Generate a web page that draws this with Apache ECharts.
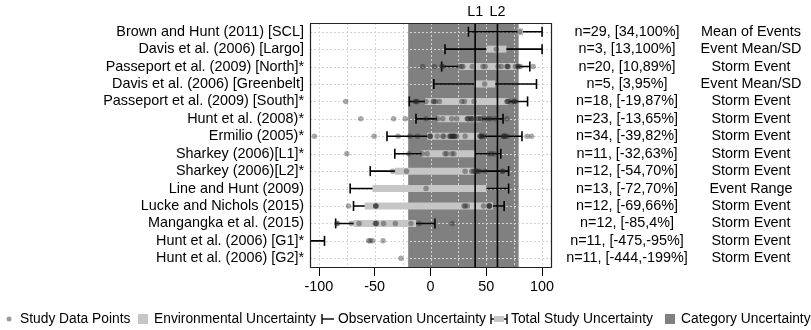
<!DOCTYPE html>
<html>
<head>
<meta charset="utf-8">
<script src="https://cdn.jsdelivr.net/npm/echarts@6/dist/echarts.min.js"></script>
<style>
  html, body { margin: 0; padding: 0; background: #fff; }
  #chart { width: 811px; height: 330px; }
</style>
</head>
<body>
<div id="chart"></div>
<script>
// Studies, top to bottom
const studies = [
  'Brown and Hunt (2011) [SCL]',
  'Davis et al. (2006) [Largo]',
  'Passeport et al. (2009) [North]*',
  'Davis et al. (2006) [Greenbelt]',
  'Passeport et al. (2009) [South]*',
  'Hunt et al. (2008)*',
  'Ermilio (2005)*',
  'Sharkey (2006)[L1]*',
  'Sharkey (2006)[L2]*',
  'Line and Hunt (2009)',
  'Lucke and Nichols (2015)',
  'Mangangka et al. (2015)',
  'Hunt et al. (2006) [G1]*',
  'Hunt et al. (2006) [G2]*'
];
const sampleCounts = [29, 3, 20, 5, 18, 23, 34, 11, 12, 13, 12, 12, 11, 11];
const dataTypes = [
  'Mean of Events', 'Event Mean/SD', 'Storm Event', 'Event Mean/SD',
  'Storm Event', 'Storm Event', 'Storm Event', 'Storm Event',
  'Storm Event', 'Event Range', 'Storm Event', 'Storm Event',
  'Storm Event', 'Storm Event'
];

// Total study uncertainty (observation whiskers), % removal
const totalLow  = [34, 13, 10, 3, -19, -13, -39, -32, -54, -72, -69, -85, -475, -444];
const totalHigh = [100, 100, 89, 95, 87, 65, 82, 63, 70, 70, 66, 4, -95, -199];

// Environmental uncertainty band, % removal
const envLow  = [78, 50, 25, 39, -5, 6, -3, -8, -32, -52, -59, -69, null, null];
const envHigh = [83, 68, 77, 58, 70, 46, 44, 40, 40, 50, 56, -13, null, null];

// Individual study data points, % removal
const studyPoints = [
  [80],
  [59],
  [-7, 3.5, 10, 11, 26, 28, 29, 37.5, 47, 49, 60.5, 63.5, 68.5, 69, 69.5, 76, 78, 79, 80.5, 92],
  [48.5],
  [-76, -13.5, -13, -12, -4, 2.5, 3, 4.5, 8, 28, 30.5, 39, 68.5, 69, 70, 74.5, 75, 76],
  [-62.5, -33, -22.5, -4, 6.5, 11, 19, 23.5, 33, 33.2, 34.5, 36.5, 37, 37.2, 41.5, 43, 45, 45.2, 49.5, 52, 54, 58, 68.5],
  [-104, -50.5, -29, -18.5, -11.5, -0.5, -0.3, -0.2, 6, 11, 12, 17, 18, 18.2, 19, 20, 20.2, 21, 21.2, 22, 23.5, 31, 44, 45, 45.2, 46.5, 48, 65, 66, 66.2, 67, 68.7, 86.5, 90.5],
  [-75, -19.5, -7.5, -3, 13, 14.5, 19, 21, 52, 54.5, 57],
  [-34, -21.5, 31, 37, 38.5, 40, 41, 42, 44, 49, 64.5, 64.8],
  [-4],
  [-73.5, -49.2, -49, -48.8, 30, 31, 33, 47.5, 52.5, 52.7, 52.8, 53],
  [-84, -83.5, -71, -64, -49.5, -48.8, -48.5, -42, -31.5, -17.5, -10, 19.5],
  [-55.5, -54, -52, -42.5],
  [-26.5]
];

// Category uncertainty range and reference limits
const categoryRange = [-20, 79];
const limitValues = [40, 60];
const limitNames = ['L1', 'L2'];

// Axis ticks and grid
const xTicks = [-100, -50, 0, 50, 100];
const xGridLines = [-100, -75, -50, -25, 0, 25, 50, 75, 100];
const xLimits = [-108, 108];

const FONT = "'Liberation Sans', Arial, sans-serif";
const FS = 14.4;
const LEG = 13.8;
const rowLabels = sampleCounts.map((n, i) => `n=${n}, [${totalLow[i]},${totalHigh[i]}%]`);

const chart = echarts.init(document.getElementById('chart'), null, { renderer: 'canvas' });

const obsData = studies.map((_, i) => [totalLow[i], totalHigh[i], i]);
const envData = [];
studies.forEach((_, i) => { if (envLow[i] != null) envData.push([envLow[i], envHigh[i], i]); });
const pointData = [];
studyPoints.forEach((pts, i) => pts.forEach(v => pointData.push([v, i])));

const legendText = (x, text) => ({
  type: 'text', x: x, y: 319,
  style: { text: text, fontSize: LEG, fontFamily: FONT, fill: '#000', verticalAlign: 'middle' }
});
const legendLine = (x1, y1, x2, y2) => ({
  type: 'line', shape: { x1, y1, x2, y2 }, style: { stroke: '#000', lineWidth: 1.4 }
});

const option = {
  animation: false,
  backgroundColor: '#fff',
  textStyle: { fontFamily: FONT },
  grid: { left: 310, right: 260, top: 23, bottom: 63, containLabel: false },
  xAxis: {
    type: 'value', min: xLimits[0], max: xLimits[1],
    axisLine: { show: false },
    axisTick: { show: true, customValues: xTicks, length: 9, lineStyle: { color: '#000', width: 1 } },
    axisLabel: { customValues: xTicks, fontSize: FS, color: '#000', margin: 13, fontFamily: FONT },
    splitLine: { show: false }
  },
  yAxis: [
    {
      type: 'category', data: studies, inverse: true,
      axisLine: { show: false }, axisTick: { show: false }, splitLine: { show: false },
      axisLabel: { interval: 0, fontSize: FS, color: '#000', margin: 6, fontFamily: FONT }
    },
    {
      type: 'category', data: studies, inverse: true, position: 'right',
      axisLine: { show: false }, axisTick: { show: false }, splitLine: { show: false },
      axisLabel: {
        interval: 0, margin: 11, fontFamily: FONT,
        formatter: (v, i) => `{a|${rowLabels[i]}}{b|${dataTypes[i]}}`,
        rich: {
          a: { width: 130, align: 'center', fontSize: FS, color: '#000', fontFamily: FONT },
          b: { width: 118, align: 'center', fontSize: FS, color: '#000', fontFamily: FONT }
        }
      }
    }
  ],
  series: [
    { // category uncertainty band
      type: 'custom', z: 1, data: [categoryRange],
      renderItem: (params, api) => {
        const cs = params.coordSys;
        const x0 = api.coord([api.value(0), 0])[0];
        const x1 = api.coord([api.value(1), 0])[0];
        return { type: 'rect', shape: { x: x0, y: cs.y, width: x1 - x0, height: cs.height },
                 style: { fill: '#808080' } };
      }
    },
    { // vertical dotted grid
      type: 'custom', z: 2, data: xGridLines.map(v => [v]),
      renderItem: (params, api) => {
        const cs = params.coordSys;
        const x = Math.round(api.coord([api.value(0), 0])[0]) + 0.5;
        return { type: 'line', shape: { x1: x, y1: cs.y, x2: x, y2: cs.y + cs.height },
                 style: { stroke: '#d3d3d3', lineWidth: 1, lineDash: [2, 2] } };
      }
    },
    { // horizontal dotted grid
      type: 'custom', z: 2, data: studies.map((_, i) => [i]),
      renderItem: (params, api) => {
        const cs = params.coordSys;
        const y = Math.round(api.coord([0, api.value(0)])[1]) + 0.5;
        return { type: 'line', shape: { x1: cs.x, y1: y, x2: cs.x + cs.width, y2: y },
                 style: { stroke: '#d3d3d3', lineWidth: 1, lineDash: [2, 2] } };
      }
    },
    { // observation / total study uncertainty whiskers
      type: 'custom', z: 3, clip: true, data: obsData,
      renderItem: (params, api) => {
        const p0 = api.coord([api.value(0), api.value(2)]);
        const p1 = api.coord([api.value(1), api.value(2)]);
        const h = 5;
        const st = { stroke: '#000', lineWidth: 1.6 };
        return { type: 'group', children: [
          { type: 'line', shape: { x1: p0[0], y1: p0[1], x2: p1[0], y2: p1[1] }, style: st },
          { type: 'line', shape: { x1: p0[0], y1: p0[1] - h, x2: p0[0], y2: p0[1] + h }, style: st },
          { type: 'line', shape: { x1: p1[0], y1: p1[1] - h, x2: p1[0], y2: p1[1] + h }, style: st }
        ] };
      }
    },
    { // environmental uncertainty band
      type: 'custom', z: 4, clip: true, data: envData,
      renderItem: (params, api) => {
        const p0 = api.coord([api.value(0), api.value(2)]);
        const p1 = api.coord([api.value(1), api.value(2)]);
        return { type: 'rect', shape: { x: p0[0], y: p0[1] - 3.5, width: p1[0] - p0[0], height: 7 },
                 style: { fill: '#c6c6c6' } };
      }
    },
    { // reference limits L1 / L2
      type: 'custom', z: 5, clip: false, data: limitValues.map((v, i) => [v, limitNames[i]]),
      renderItem: (params, api) => {
        const cs = params.coordSys;
        const x = api.coord([api.value(0), 0])[0];
        return { type: 'group', children: [
          { type: 'line', shape: { x1: x, y1: cs.y, x2: x, y2: cs.y + cs.height },
            style: { stroke: '#000', lineWidth: 1.6 } },
          { type: 'text', x: x, y: cs.y - 11,
            style: { text: limitNames[params.dataIndex], fontSize: FS, fontFamily: FONT, fill: '#000',
                     align: 'center', verticalAlign: 'middle' } }
        ] };
      }
    },
    { // study data points
      type: 'scatter', z: 6, data: pointData, symbol: 'circle', symbolSize: 5.5,
      itemStyle: { color: 'rgba(40,40,40,0.5)' }, clip: true
    },
    { // plot frame
      type: 'custom', z: 7, data: [[0]],
      renderItem: (params) => {
        const cs = params.coordSys;
        return { type: 'rect', shape: { x: cs.x + 0.5, y: cs.y + 0.5, width: cs.width, height: cs.height },
                 style: { fill: 'none', stroke: '#222', lineWidth: 1.2 } };
      }
    }
  ],
  graphic: [
    { type: 'circle', shape: { cx: 9, cy: 319, r: 2.5 }, style: { fill: '#9a9a9a' } },
    legendText(20, 'Study Data Points'),
    { type: 'rect', shape: { x: 138, y: 314, width: 10, height: 10 }, style: { fill: '#c6c6c6' } },
    legendText(154, 'Environmental Uncertainty'),
    legendLine(322, 319, 334, 319),
    legendLine(322, 314, 322, 324),
    legendText(338, 'Observation Uncertainty'),
    legendLine(491, 319, 507, 319),
    legendLine(491, 314, 491, 324),
    legendLine(507, 314, 507, 324),
    { type: 'rect', shape: { x: 494, y: 316, width: 10, height: 6 }, style: { fill: '#c6c6c6' } },
    legendText(511, 'Total Study Uncertainty'),
    { type: 'rect', shape: { x: 665, y: 314, width: 10, height: 10 }, style: { fill: '#808080' } },
    legendText(681, 'Category Uncertainty')
  ]
};

chart.setOption(option);
</script>
</body>
</html>
